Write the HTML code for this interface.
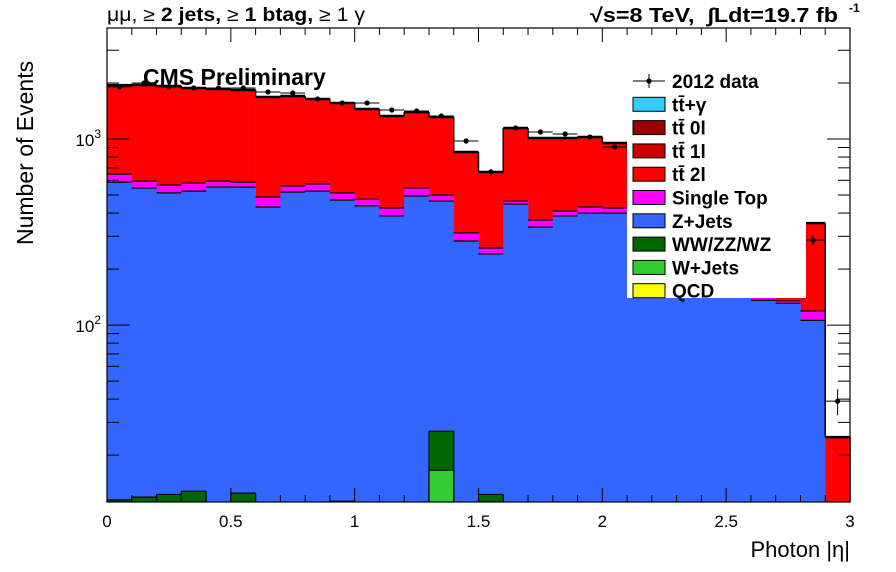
<!DOCTYPE html>
<html><head><meta charset="utf-8"><style>
body{margin:0;background:#fff;}
svg{display:block;font-family:"Liberation Sans",Arial,sans-serif;}
</style></head><body>
<svg id="chart" width="896" height="572" viewBox="0 0 896 572">
<rect x="0" y="0" width="896" height="572" fill="#fff"/>
<g id="stack"></g>
<g id="dataPts"></g>
<rect x="107" y="28" width="743" height="474" fill="none" stroke="#000" stroke-width="1.2"/>
<g id="ticks"></g>
<text x="107" y="21" font-size="19" textLength="258" lengthAdjust="spacingAndGlyphs">μμ, ≥ <tspan font-weight="bold">2 jets,</tspan> ≥ <tspan font-weight="bold">1 btag,</tspan> ≥ 1 γ</text>
<text x="590" y="22" font-size="20" font-weight="bold" textLength="248" lengthAdjust="spacingAndGlyphs">√s=8 TeV,&#160;&#160;∫Ldt=19.7 fb</text>
<text x="849" y="12" font-size="12" font-weight="bold">-1</text>
<text x="143" y="85" font-size="23" font-weight="bold">CMS Preliminary</text>
<text x="850" y="557" font-size="22" text-anchor="end">Photon |η|</text>
<text transform="translate(33,245) rotate(-90)" font-size="23">Number of Events</text>
<g id="legend"></g>
</svg>
<script>
const binLo = [0,0.1,0.2,0.3,0.4,0.5,0.6,0.7,0.8,0.9,1.0,1.1,1.2,1.3,1.4,1.5,1.6,1.7,1.8,1.9,2.0,2.1,2.2,2.3,2.4,2.5,2.6,2.7,2.8,2.9];
const dataCounts = [1905,2000,1905,1880,1880,1880,1790,1767,1641,1562,1562,1432,1415,1330,976,665,1146,1091,1064,1025,906,880,830,760,690,610,490,420,286,39];
const wjets = [0,0,0,0,0,0,0,0,0,0,0,0,0,16.6,0,0,0,0,0,0,0,0,0,0,0,0,0,0,0,0];
const diboson = [11.5,11.9,12.3,12.8,0,12.5,0,0,0,11.3,0,0,0,10.3,0,12.3,0,0,0,0,0,0,0,0,0,0,0,0,0,0];
const zjets = [575,533,501,512,552,539,431,519,525,459,437,386,494,437,283,229,447,336,386,400,400,390,367,332,294,154,136,131,106,0];
const singletop = [61,49,53,55,42,35,57,40,48,43,38,40,51,36,30,18,17,31,24,31,26,25,23,26,22,10,6,4,13,0];
const ttbar2l = [1302,1356,1361,1300,1264,1247,1194,1144,1068,1049,974,904,852,813,538,406,682,645,602,594,526,458,430,413,365,438,358,280,234,25];
const tickX = ["0","0.5","1","1.5","2","2.5","3"];
const tickXVals = [0,0.5,1,1.5,2,2.5,3];
const NS="http://www.w3.org/2000/svg";
const X0=107,X1=850,Y0=502,Y1=28,BASE=11.2,TOP=3950,BW=0.1;
function xs(v){return X0+(X1-X0)*v/3;}
function ys(v){v=Math.max(v,BASE);return Y0-(Y0-Y1)*(Math.log10(v)-Math.log10(BASE))/(Math.log10(TOP)-Math.log10(BASE));}
function mk(t,a,p){const e=document.createElementNS(NS,t);for(const k in a)e.setAttribute(k,a[k]);p.appendChild(e);return e;}
const stack=document.getElementById('stack');
const comps=[[wjets,'#33cc33','wjets'],[diboson,'#006600','diboson'],[zjets,'#3366ff','zjets'],[singletop,'#ff00ff','single-top'],[ttbar2l,'#ff0000','ttbar-2l']];
const cum=[];let run=binLo.map(()=>0);
comps.forEach(c=>{run=run.map((r,i)=>r+c[0][i]);cum.push(run.slice());});
for(let k=comps.length-1;k>=0;k--){
  const g=mk('g',{},stack);
  
  
  binLo.forEach((lo,i)=>{
    const v=cum[k][i]; if(v<=BASE)return;
    const y=ys(v);
    const r=mk('rect',{x:xs(lo),y:y,width:xs(lo+BW)-xs(lo)+0.3,height:Y0-y,fill:comps[k][1]},g);
    
    
  });
}
for(let k=0;k<comps.length;k++){
  let d='';
  binLo.forEach((lo,i)=>{const v=cum[k][i];if(v<=BASE||comps[k][0][i]<=0)return;const y=ys(v);
    d+='M'+xs(lo)+' '+y+' H'+xs(lo+BW)+' ';
    if(k<2){d+='M'+xs(lo)+' '+y+' V'+Y0+' M'+xs(lo+BW)+' '+y+' V'+Y0+' ';}});
  const p=mk('path',{d:d,stroke:'#000','stroke-width':k==comps.length-1?2.5:1.2,fill:'none'},stack);
  
  
}
{let d='';const t=cum[comps.length-1];
 binLo.forEach((lo,i)=>{if(i>0)d+='M'+xs(lo)+' '+ys(t[i-1])+' V'+ys(t[i])+' ';});
 d+='M'+xs(3)+' '+ys(t[29])+' V'+Y0;
 const p=mk('path',{d:d,stroke:'#000','stroke-width':1.5,fill:'none'},stack);
 
 }
const dp=document.getElementById('dataPts');
binLo.forEach((lo,i)=>{
  const v=dataCounts[i],y=ys(v),cx=xs(lo+BW/2),e=Math.sqrt(v);
  const g=mk('g',{},dp);
  
  
  mk('line',{x1:xs(lo),x2:xs(lo+BW),y1:y,y2:y,stroke:'#000','stroke-width':1},g);
  mk('line',{x1:cx,x2:cx,y1:ys(v+e),y2:ys(v-e),stroke:'#000','stroke-width':1},g);
  mk('circle',{cx:cx,cy:y,r:2.6,fill:'#000'},g);
});
const tk=document.getElementById('ticks');
for(let i=0;i<=30;i++){const x=xs(i/10),L=i%5==0?14:7;
  mk('line',{x1:x,x2:x,y1:Y0,y2:Y0-L,stroke:'#000'},tk);
  mk('line',{x1:x,x2:x,y1:Y1,y2:Y1+L,stroke:'#000'},tk);}
tickX.forEach((t,i)=>{const e=mk('text',{x:xs(tickXVals[i]),y:527,'font-size':17,'text-anchor':'middle'},tk);e.textContent=t;
  });
[20,30,40,50,60,70,80,90,100,200,300,400,500,600,700,800,900,1000,2000,3000].forEach(v=>{
  const y=ys(v),L=(v==100||v==1000)?23:12;
  mk('line',{x1:X0,x2:X0+L,y1:y,y2:y,stroke:'#000'},tk);
  mk('line',{x1:X1,x2:X1-L,y1:y,y2:y,stroke:'#000'},tk);});
[[100,'2'],[1000,'3']].forEach(([v,ex])=>{
  const t=mk('text',{x:101,y:ys(v)+7,'font-size':17,'text-anchor':'end'},tk);
  t.innerHTML='10<tspan dy="-8" font-size="12">'+ex+'</tspan>';
  });
const lg=document.getElementById('legend');
mk('rect',{x:627,y:69,width:179,height:229,fill:'#fff'},lg);
const entries=[['2012 data',null],['tt̄+γ','#33ccff'],['tt̄ 0l','#990000'],['tt̄ 1l','#cc0000'],['tt̄ 2l','#ff0000'],['Single Top','#ff00ff'],['Z+Jets','#3366ff'],['WW/ZZ/WZ','#006600'],['W+Jets','#33cc33'],['QCD','#ffff00']];
entries.forEach((en,i)=>{const y=81+i*23.3;
  const g=mk('g',{},lg);
  
  
  if(en[1]){mk('rect',{x:633,y:y-7,width:32,height:14,fill:en[1],stroke:'#000','stroke-width':1},g);}
  else{mk('line',{x1:633,x2:665,y1:y,y2:y,stroke:'#000'},g);mk('line',{x1:649,x2:649,y1:y-7,y2:y+7,stroke:'#000'},g);mk('circle',{cx:649,cy:y,r:2.6},g);}
  const t=mk('text',{x:672,y:y+7,'font-size':19,'font-weight':'bold'},g);t.textContent=en[0];});
</script>
</body></html>
